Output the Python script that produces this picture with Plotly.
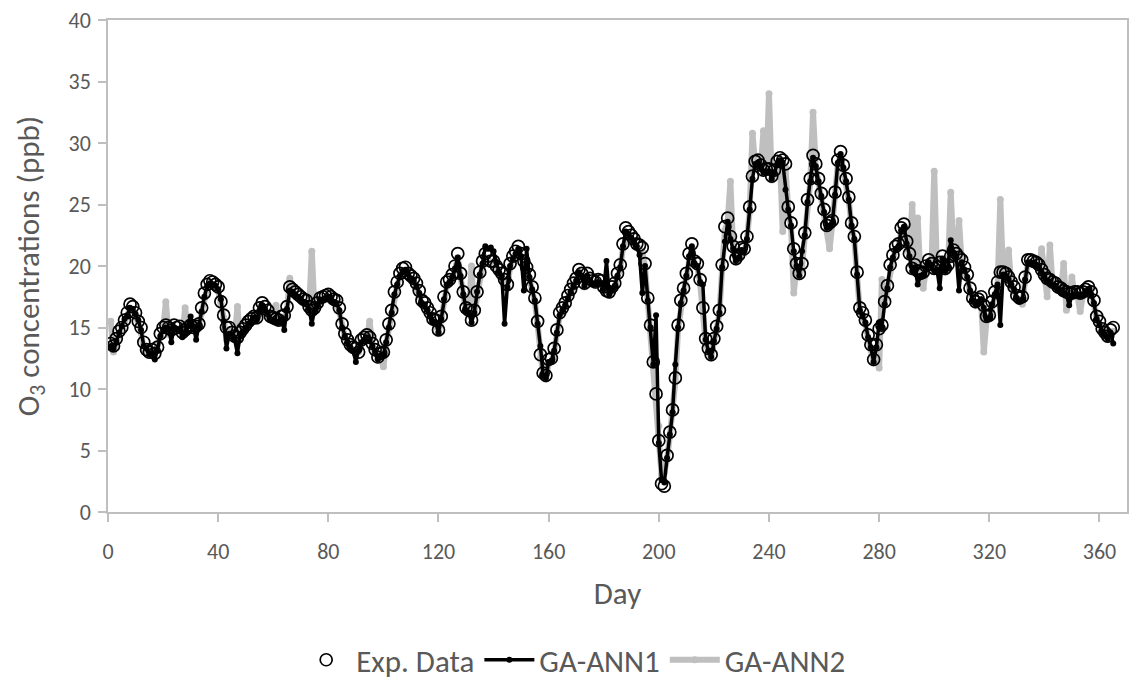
import plotly.graph_objects as go

days = list(range(1, 366))

exp_data = [
    13.7, 13.5, 14.1, 14.7, 15.0, 15.6, 16.2, 16.9, 16.7, 16.2,
    15.5, 15.0, 13.8, 13.2, 13.0, 13.2, 12.9, 13.4, 14.5, 15.0,
    15.2, 15.0, 14.8, 15.2, 15.0, 15.1, 14.6, 14.8, 15.0, 15.2,
    15.0, 15.1, 15.3, 16.6, 17.8, 18.5, 18.8, 18.7, 18.5, 18.3,
    17.1, 16.0, 15.0, 15.0, 14.6, 14.3, 14.2, 14.6, 14.9, 15.2,
    15.5, 15.7, 15.9, 15.8, 16.6, 17.0, 16.7, 16.4, 15.9, 15.8,
    15.7, 15.6, 15.9, 16.0, 16.7, 18.3, 18.1, 17.9, 17.7, 17.5,
    17.3, 17.2, 16.7, 16.4, 16.6, 17.0, 17.4, 17.5, 17.6, 17.7,
    17.5, 17.3, 17.2, 16.6, 15.3, 14.5, 14.0, 13.6, 13.4, 13.3,
    13.0, 14.0, 14.2, 14.4, 14.2, 13.7, 13.2, 12.6, 12.9, 13.0,
    14.0, 15.3, 16.4, 17.9, 18.7, 19.4, 19.8, 19.9, 19.4, 19.2,
    19.0, 18.6, 18.0, 17.2, 17.0, 16.6, 16.2, 15.7, 15.6, 14.8,
    15.9, 17.5, 18.7, 18.9, 19.3, 20.0, 21.0, 19.4, 17.9, 16.6,
    16.4, 15.6, 16.4, 17.9, 19.5, 20.4, 21.0, 20.8, 20.4, 20.4,
    20.0, 19.7, 19.4, 18.9, 18.5, 20.2, 20.8, 21.2, 21.6, 21.0,
    20.4, 19.9, 19.3, 18.3, 17.4, 15.5, 12.8, 11.3, 11.1, 12.4,
    12.5, 13.3, 14.8, 16.2, 16.6, 17.0, 17.6, 18.1, 18.6, 19.0,
    19.7, 19.4, 18.6, 19.4, 19.0, 18.8, 18.7, 18.9, 18.8, 18.3,
    18.0, 17.9, 18.3, 18.6, 19.4, 20.1, 21.8, 23.1, 22.8, 22.5,
    22.2, 21.8, 21.7, 21.5, 20.2, 17.4, 15.2, 12.2, 9.6, 5.8,
    2.3, 2.1, 4.6, 6.5, 8.3, 10.9, 15.2, 17.2, 18.2, 19.4,
    21.0, 21.8, 20.4, 20.2, 18.9, 16.6, 14.1, 13.3, 12.8, 14.1,
    15.1, 16.4, 20.1, 23.2, 23.9, 22.4, 21.6, 20.6, 20.9, 21.5,
    21.4, 22.4, 24.8, 27.3, 28.5, 28.6, 28.2, 27.8, 27.9, 27.9,
    27.3, 27.8, 28.5, 28.8, 28.6, 28.3, 24.8, 23.5, 21.4, 20.2,
    19.4, 20.2, 22.7, 25.4, 27.1, 29.0, 28.3, 27.1, 25.9, 24.6,
    23.3, 23.5, 23.7, 26.0, 28.6, 29.3, 28.2, 27.1, 25.6, 23.5,
    22.4, 19.5, 16.6, 16.2, 15.6, 14.4, 13.6, 12.4, 13.6, 14.9,
    15.2, 17.1, 18.4, 20.1, 20.9, 21.6, 21.8, 23.1, 23.4, 22.0,
    21.0, 19.8, 20.1, 19.6, 19.4, 19.5, 20.0, 20.5, 20.2, 19.8,
    19.9, 20.3, 20.8, 19.8, 20.1, 20.8, 21.3, 21.0, 20.7, 20.5,
    19.9, 19.3, 18.2, 17.4, 17.1, 17.3, 17.5, 16.8, 15.9, 16.0,
    17.1, 17.9, 18.7, 19.5, 19.5, 19.4, 19.1, 18.7, 18.3, 17.6,
    17.4, 17.5, 19.1, 20.5, 20.5, 20.4, 20.3, 20.1, 19.7, 19.3,
    19.0, 18.9, 18.7, 18.6, 18.3, 18.2, 18.0, 17.9, 17.8, 17.8,
    17.9, 17.9, 17.8, 17.9, 18.1, 18.3, 17.9, 17.2, 15.9, 15.5,
    14.9, 14.6, 14.3, 14.8, 15.0,
]

ga_ann1 = [
    13.5, 13.3, 13.9, 14.6, 15.1, 15.7, 16.0, 16.6, 16.5, 16.1,
    15.6, 14.8, 13.5, 13.3, 12.8, 12.9, 12.4, 13.2, 14.3, 14.8,
    15.0, 14.9, 13.8, 15.0, 14.9, 14.8, 14.2, 14.6, 15.1, 15.9,
    15.1, 14.0, 15.0, 16.3, 17.5, 18.4, 18.6, 18.5, 18.4, 18.1,
    17.3, 15.5, 13.3, 14.5, 14.4, 14.0, 12.9, 14.4, 14.7, 15.0,
    15.3, 15.5, 15.8, 15.6, 16.4, 16.8, 16.5, 16.2, 15.7, 15.6,
    15.5, 15.4, 15.7, 14.8, 16.5, 18.0, 17.9, 17.7, 17.5, 17.3,
    17.1, 17.0, 16.5, 15.3, 16.4, 16.8, 17.2, 17.3, 17.4, 17.5,
    17.3, 17.1, 17.0, 16.4, 15.0, 14.3, 13.8, 13.4, 13.1, 12.2,
    13.2, 13.8, 14.0, 14.2, 14.0, 13.5, 13.0, 12.4, 12.7, 12.8,
    13.8, 15.0, 16.2, 17.7, 18.5, 19.2, 19.6, 19.7, 19.3, 19.0,
    18.8, 18.4, 17.8, 17.0, 16.8, 16.4, 16.0, 15.5, 15.4, 14.6,
    15.7, 17.3, 18.5, 18.7, 19.1, 19.8, 20.7, 19.2, 17.7, 16.4,
    16.2, 15.4, 16.2, 17.9, 19.3, 20.2, 21.6, 21.4, 21.5, 21.2,
    20.3, 19.5, 19.2, 15.3, 18.3, 20.0, 20.6, 21.0, 21.4, 20.8,
    18.0, 21.4, 19.1, 18.1, 17.2, 15.3, 13.5, 11.1, 10.9, 12.2,
    12.3, 13.1, 14.6, 16.0, 16.4, 16.8, 17.4, 17.9, 18.4, 18.8,
    19.5, 19.2, 18.4, 19.2, 18.8, 18.6, 18.5, 18.7, 18.6, 18.1,
    20.4, 17.7, 18.1, 18.4, 19.2, 19.9, 21.6, 22.8, 22.6, 22.3,
    22.0, 21.6, 20.9, 17.8, 20.0, 17.2, 15.0, 12.0, 16.0, 5.6,
    2.6, 2.4, 4.4, 6.3, 8.1, 12.0, 15.0, 17.0, 18.0, 19.2,
    20.8, 21.6, 20.2, 20.0, 18.7, 18.5, 14.0, 13.1, 12.6, 13.9,
    14.9, 16.2, 19.9, 22.0, 23.6, 22.2, 21.4, 20.4, 20.7, 21.3,
    21.2, 22.2, 24.6, 27.1, 28.3, 28.4, 28.0, 27.6, 27.7, 27.7,
    27.1, 27.6, 28.3, 28.6, 28.4, 26.2, 24.6, 23.3, 21.2, 20.0,
    19.2, 21.2, 22.5, 25.2, 26.9, 28.8, 28.1, 26.9, 25.7, 24.4,
    23.1, 23.3, 23.5, 25.8, 28.4, 29.1, 28.0, 26.9, 25.4, 23.3,
    22.2, 19.3, 16.4, 16.0, 15.4, 14.2, 13.4, 12.2, 13.4, 15.4,
    15.0, 16.9, 18.2, 19.9, 20.7, 21.4, 21.6, 22.9, 23.2, 21.8,
    20.8, 19.6, 19.9, 18.5, 19.2, 19.3, 19.8, 20.3, 20.0, 19.6,
    19.7, 18.2, 20.6, 19.6, 19.9, 22.1, 21.1, 20.8, 18.0, 20.3,
    19.7, 19.1, 18.0, 17.2, 16.9, 17.1, 17.3, 16.6, 15.7, 15.8,
    16.9, 17.7, 18.5, 15.2, 19.3, 19.2, 18.9, 18.5, 18.1, 17.4,
    17.1, 17.3, 18.9, 20.3, 20.3, 20.2, 20.1, 19.9, 19.5, 19.1,
    18.8, 18.7, 18.5, 18.4, 18.1, 18.0, 17.8, 17.7, 16.8, 17.6,
    17.7, 17.7, 17.6, 17.7, 17.9, 18.1, 17.7, 17.0, 15.7, 15.3,
    14.7, 14.4, 14.1, 14.6, 13.7,
]

ga_ann2 = [
    15.5, 13.0, 13.8, 14.4, 14.9, 15.3, 15.9, 16.5, 16.4, 16.0,
    15.4, 14.6, 13.2, 12.9, 13.0, 13.1, 13.0, 13.6, 14.2, 14.8,
    17.1, 14.5, 14.6, 14.8, 14.7, 14.9, 14.3, 16.6, 14.7, 15.0,
    14.8, 15.0, 15.2, 16.2, 17.4, 18.2, 18.5, 18.4, 18.2, 18.0,
    17.0, 15.8, 14.0, 14.8, 14.4, 14.1, 16.7, 14.0, 14.5, 14.9,
    15.2, 15.4, 15.6, 15.5, 16.3, 16.7, 16.4, 16.1, 15.6, 15.5,
    16.8, 15.4, 15.6, 15.8, 16.4, 19.0, 17.8, 17.6, 17.4, 17.2,
    17.0, 16.9, 16.4, 21.2, 16.3, 16.7, 17.1, 17.2, 17.3, 17.4,
    17.2, 17.0, 16.9, 16.3, 15.0, 14.2, 13.7, 13.3, 13.1, 13.0,
    13.0, 13.7, 13.9, 14.1, 15.5, 13.4, 12.9, 12.4, 12.6, 11.8,
    13.7, 15.0, 16.1, 17.6, 18.4, 19.1, 19.5, 19.6, 19.1, 18.9,
    18.7, 18.3, 17.7, 16.9, 16.7, 16.3, 15.9, 15.4, 15.3, 14.5,
    15.6, 17.2, 18.4, 18.6, 19.0, 19.7, 20.7, 19.1, 17.6, 16.3,
    16.1, 20.0, 16.1, 17.6, 19.2, 20.1, 20.7, 20.5, 20.1, 20.1,
    19.7, 19.4, 19.1, 18.6, 18.2, 19.9, 20.5, 20.9, 21.3, 20.7,
    20.1, 19.6, 19.0, 18.0, 17.1, 15.2, 12.5, 11.0, 10.8, 12.1,
    12.2, 13.0, 14.5, 15.9, 16.3, 16.7, 17.3, 17.8, 18.3, 18.7,
    19.4, 19.1, 18.3, 19.1, 18.7, 18.5, 18.4, 18.6, 18.5, 18.0,
    17.7, 17.6, 18.0, 18.3, 19.1, 19.8, 21.5, 22.2, 22.0, 22.0,
    21.9, 21.5, 21.4, 21.2, 19.9, 17.1, 14.9, 11.9, 9.3, 7.0,
    3.0, 3.2, 4.3, 6.2, 8.0, 10.6, 14.9, 16.9, 17.9, 19.1,
    20.7, 21.5, 20.1, 19.9, 18.6, 16.3, 13.8, 13.0, 12.5, 13.8,
    14.8, 16.1, 19.8, 22.9, 23.6, 26.9, 21.3, 20.3, 20.6, 21.2,
    21.1, 22.1, 24.5, 30.8, 28.2, 28.3, 27.9, 31.0, 27.6, 34.0,
    27.0, 27.5, 28.2, 28.5, 22.8, 28.0, 24.5, 23.2, 17.8, 19.9,
    19.1, 19.9, 22.4, 25.1, 26.8, 32.5, 28.0, 26.8, 25.6, 24.3,
    23.0, 21.4, 23.4, 25.7, 28.3, 29.0, 27.9, 26.8, 25.3, 23.2,
    22.1, 19.2, 16.3, 15.9, 15.3, 14.1, 13.3, 12.1, 13.3, 11.7,
    18.9, 16.8, 18.1, 19.8, 20.6, 21.3, 21.5, 22.8, 23.1, 21.7,
    20.7, 25.0, 19.8, 23.9, 19.1, 18.2, 19.7, 20.2, 19.9, 27.7,
    19.6, 20.0, 20.5, 19.5, 19.8, 26.0, 21.0, 20.7, 23.7, 20.2,
    19.6, 19.0, 17.9, 17.1, 16.8, 17.0, 17.2, 13.0, 15.6, 15.7,
    16.8, 17.6, 18.4, 25.4, 19.2, 19.1, 21.3, 18.4, 18.0, 17.3,
    17.1, 16.9, 18.8, 20.2, 20.2, 20.1, 20.0, 19.8, 21.4, 19.0,
    17.5, 21.7, 18.4, 18.3, 18.0, 17.9, 20.2, 16.4, 17.5, 19.1,
    17.6, 17.6, 16.3, 17.6, 17.8, 18.0, 17.6, 16.9, 15.6, 15.2,
    14.6, 14.3, 14.0, 14.5, 14.7,
]

x_ticks = [0, 40, 80, 120, 160, 200, 240, 280, 320, 360]
y_ticks = [0, 5, 10, 15, 20, 25, 30, 35, 40]

FONT = "Calibri, Carlito, Lato, sans-serif"
TXT = "#595959"
AX = "#BFBFBF"

fig = go.Figure()
fig.add_trace(go.Scatter(
    x=days, y=ga_ann2, mode="lines+markers", name="GA-ANN2",
    line=dict(color="#BFBFBF", width=6),
    marker=dict(color="#BFBFBF", size=7, symbol="circle"),
    legendrank=3,
))
fig.add_trace(go.Scatter(
    x=days, y=ga_ann1, mode="lines+markers", name="GA-ANN1",
    line=dict(color="#000000", width=3.5),
    marker=dict(color="#000000", size=6, symbol="circle"),
    legendrank=2,
))
fig.add_trace(go.Scatter(
    x=days, y=exp_data, mode="markers", name="Exp. Data",
    marker=dict(symbol="circle-open", size=12, color="#000000",
                line=dict(width=1.7, color="#000000")),
    legendrank=1,
))

fig.update_layout(
    width=1136, height=697,
    margin=dict(l=108, r=7, t=20, b=185),
    plot_bgcolor="white", paper_bgcolor="white",
    font=dict(family=FONT, size=22, color=TXT),
    showlegend=True,
    legend=dict(orientation="h", x=0.457, xanchor="center",
                y=-0.301, yanchor="middle",
                font=dict(family=FONT, size=31, color=TXT),
                itemwidth=50),
)
fig.update_xaxes(
    range=[0, 370], tickmode="array", tickvals=x_ticks,
    ticktext=[str(t) for t in x_ticks],
    showline=True, linecolor=AX, linewidth=1.5, mirror=True,
    ticks="outside", ticklen=8, tickcolor=AX, tickwidth=1.5,
    showgrid=False, zeroline=False,
    tickfont=dict(family=FONT, size=22, color=TXT),
    ticklabelstandoff=11,
    title=dict(text="Day", font=dict(family=FONT, size=31, color=TXT), standoff=18),
)
fig.update_yaxes(
    range=[0, 40], tickmode="array", tickvals=y_ticks,
    ticktext=[str(t) for t in y_ticks],
    showline=True, linecolor=AX, linewidth=1.5, mirror=True,
    ticks="outside", ticklen=8, tickcolor=AX, tickwidth=1.5,
    showgrid=False, zeroline=False,
    tickfont=dict(family=FONT, size=22, color=TXT),
    ticklabelstandoff=3,
    title=dict(text="O<sub>3</sub> concentrations (ppb)",
               font=dict(family=FONT, size=31, color=TXT), standoff=20),
)

fig.write_html("out.html")
